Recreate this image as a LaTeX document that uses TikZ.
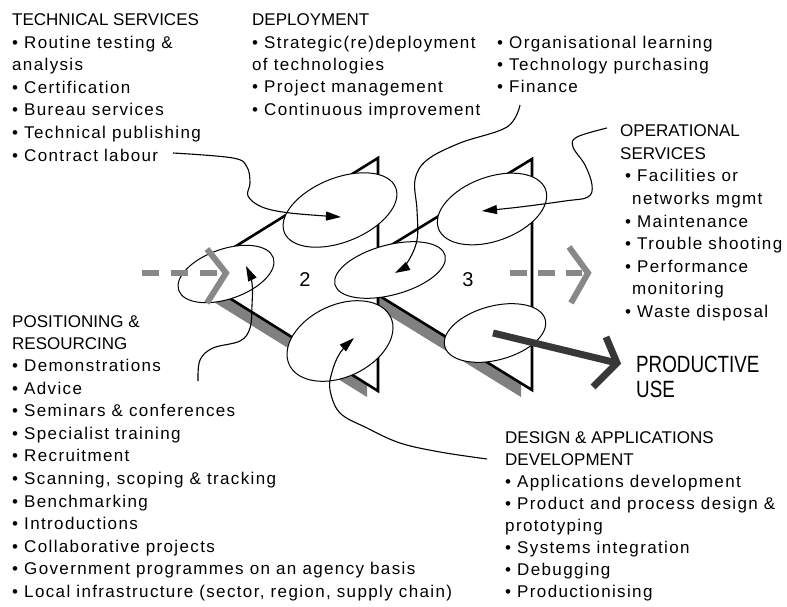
\documentclass[tikz,border=0pt]{standalone}
\usepackage{fontspec}
\usepackage{graphicx}
\setmainfont{Liberation Sans}
\newfontfamily\bodyfont[LetterSpace=8]{Liberation Sans}
\usetikzlibrary{arrows.meta}
\definecolor{shade}{RGB}{128,128,128}
\definecolor{dashgray}{RGB}{136,136,136}
\definecolor{darkarrow}{RGB}{55,55,55}
\begin{document}
\begin{tikzpicture}[x=1pt,y=-1pt,
  txt/.style={anchor=base west, inner sep=0pt, font={\bodyfont\fontsize{17}{20}\selectfont}},
  hdr/.style={anchor=base west, inner sep=0pt, font={\fontsize{17}{20}\selectfont}},
  tri/.style={draw=black, fill=white, line width=2.6pt, line join=miter},
  shadowfill/.style={fill=shade, draw=none},
  blob/.style={draw=black, fill=white, line width=1pt},
  conn/.style={draw=black, line width=1.1pt, -{Triangle[length=15pt,width=9pt]}},
  flow/.style={draw=dashgray, line width=6pt},
  prod/.style={draw=darkarrow, line width=7pt},
]
\useasboundingbox (0,0) rectangle (787,607);

% ---------- triangles with shadows ----------
\fill[shadowfill] (333,281) -- (521,166) -- (521,397) -- cycle;
\draw[tri] (344,274) -- (532,159) -- (532,390) -- cycle;
\fill[shadowfill] (180,281) -- (367,166) -- (367,397) -- cycle;
\draw[tri] (191,274) -- (378,158) -- (378,391) -- cycle;

% ---------- ellipses ----------
\coordinate (e1) at (340,210);
\coordinate (e2) at (226,274);
\coordinate (e3) at (390,270);
\coordinate (e4) at (340,341);
\coordinate (e5) at (492,209);
\coordinate (e6) at (495,333);
\draw[blob, rotate around={22:(e1)}] (e1) ellipse (60 and 32);
\draw[blob, rotate around={15:(e3)}] (e3) ellipse (57 and 25);
\draw[blob, rotate around={20:(e5)}] (e5) ellipse (57 and 32);
\draw[blob, rotate around={19:(e2)}] (e2) ellipse (50 and 25);
\draw[blob, rotate around={25:(e4)}] (e4) ellipse (56 and 36);
\draw[blob, rotate around={15:(e6)}] (e6) ellipse (52 and 27);

% ---------- numbers ----------
\node[font={\fontsize{20}{24}\selectfont}] (n2) at (305,280) {2};
\node[font={\fontsize{20}{24}\selectfont}] (n3) at (468,280) {3};

% ---------- flow arrows ----------
\coordinate (lfs) at (142,273);
\coordinate (lfe) at (219,273);
\coordinate (lft) at (226,273);
\draw[flow, dash pattern=on 17pt off 12pt] (lfs) -- (lfe);
\draw[flow, line join=miter] (207,249) -- (lft) -- (207,303);
\coordinate (rfs) at (510,273);
\coordinate (rfe) at (582,273);
\coordinate (rft) at (588,273);
\draw[flow, dash pattern=on 17pt off 11pt] (rfs) -- (rfe);
\draw[flow, line join=miter] (569,247) -- (rft) -- (571,303);

\coordinate (pus) at (493,333);
\coordinate (put) at (617,363);
\draw[prod] (pus) -- (put);
\draw[prod, line join=miter] (606,337) -- (put) -- (593,387);

% ---------- connectors ----------
\coordinate (c1s) at (173,153);  \coordinate (c1e) at (341,217);
\coordinate (c2s) at (520,105);  \coordinate (c2e) at (395,273);
\coordinate (c3s) at (607,128);  \coordinate (c3e) at (482,211);
\coordinate (c4s) at (198,381);  \coordinate (c4e) at (246,266);
\coordinate (c5s) at (487,459);  \coordinate (c5e) at (354,338);
\draw[conn] plot[smooth, tension=0.6] coordinates {(c1s) (233,158) (247,167) (250,183) (248,196) (262,207) (290,213) (c1e)};
\draw[conn] plot[smooth, tension=0.6] coordinates {(c2s) (507,127) (460,143) (427,160) (415,180) (417,210) (417,240) (407,263) (c2e)};
\draw[conn] plot[smooth, tension=0.6] coordinates {(c3s) (577,137) (573,147) (585,165) (592,185) (588,197) (565,201) (520,207) (c3e)};
\draw[conn] plot[smooth, tension=0.6] coordinates {(c4s) (200,360) (213,348) (240,341) (250,328) (252,305) (252,283) (c4e)};
\draw[conn] plot[smooth, tension=0.6] coordinates {(c5s) (440,452) (400,443) (367,428) (340,413) (330,390) (332,372) (340,353) (c5e)};

% ---------- text: technical services ----------
\node[hdr] (ts0) at (12,26) {TECHNICAL SERVICES};
\foreach \t [count=\i] in {{\textbullet\ Routine testing \&},{analysis},{\textbullet\ Certification},{\textbullet\ Bureau services},{\textbullet\ Technical publishing},{\textbullet\ Contract labour}}
  \node[txt] (ts\i) at (12,{26+22.5*\i}) {\t};

% ---------- deployment ----------
\node[hdr] (dp0) at (252,26) {DEPLOYMENT};
\foreach \t [count=\i] in {{\textbullet\ Strategic(re)deployment},{of technologies},{\textbullet\ Project management},{\textbullet\ Continuous improvement}}
  \node[txt] (dp\i) at (252,{26+22.3*\i}) {\t};

% ---------- organisation ----------
\foreach \t [count=\i] in {{\textbullet\ Organisational learning},{\textbullet\ Technology purchasing},{\textbullet\ Finance}}
  \node[txt] (og\i) at (497,{26+22.3*\i}) {\t};

% ---------- operational services ----------
\node[hdr] (op0) at (620,137) {OPERATIONAL};
\node[hdr] (op1) at (620,159.5) {SERVICES};
\foreach \x/\t [count=\i] in {625/{\textbullet\ Facilities or},632/{networks mgmt},625/{\textbullet\ Maintenance},625/{\textbullet\ Trouble shooting},625/{\textbullet\ Performance},632/{monitoring},625/{\textbullet\ Waste disposal}}
  \node[txt] (op\i x) at (\x,{159.5+22.5*\i}) {\t};

% ---------- positioning ----------
\node[hdr] (ps0) at (12,327) {POSITIONING \&};
\node[hdr] (ps1) at (12,349) {RESOURCING};
\foreach \t [count=\i from 0] in {{\textbullet\ Demonstrations},{\textbullet\ Advice},{\textbullet\ Seminars \& conferences},{\textbullet\ Specialist training},{\textbullet\ Recruitment},{\textbullet\ Scanning, scoping \& tracking},{\textbullet\ Benchmarking},{\textbullet\ Introductions},{\textbullet\ Collaborative projects},{\textbullet\ Government programmes on an agency basis},{\textbullet\ Local infrastructure (sector, region, supply chain)}}
  \node[txt] (pb\i) at (12,{371.5+22.6*\i}) {\t};

% ---------- design ----------
\node[hdr] (dg0) at (505,443) {DESIGN \& APPLICATIONS};
\node[hdr] (dg1) at (505,465) {DEVELOPMENT};
\foreach \t [count=\i from 2] in {{\textbullet\ Applications development},{\textbullet\ Product and process design \&},{prototyping},{\textbullet\ Systems integration},{\textbullet\ Debugging},{\textbullet\ Productionising}}
  \node[txt] (dg\i) at (505,{443+22.1*\i}) {\t};

% ---------- productive use ----------
\node[hdr, font={\fontsize{23.5}{28}\selectfont}] (pu1) at (636,372) {\scalebox{0.8}[1]{PRODUCTIVE}};
\node[hdr, font={\fontsize{23.5}{28}\selectfont}] (pu2) at (636,397) {\scalebox{0.8}[1]{USE}};
\end{tikzpicture}
\end{document}
